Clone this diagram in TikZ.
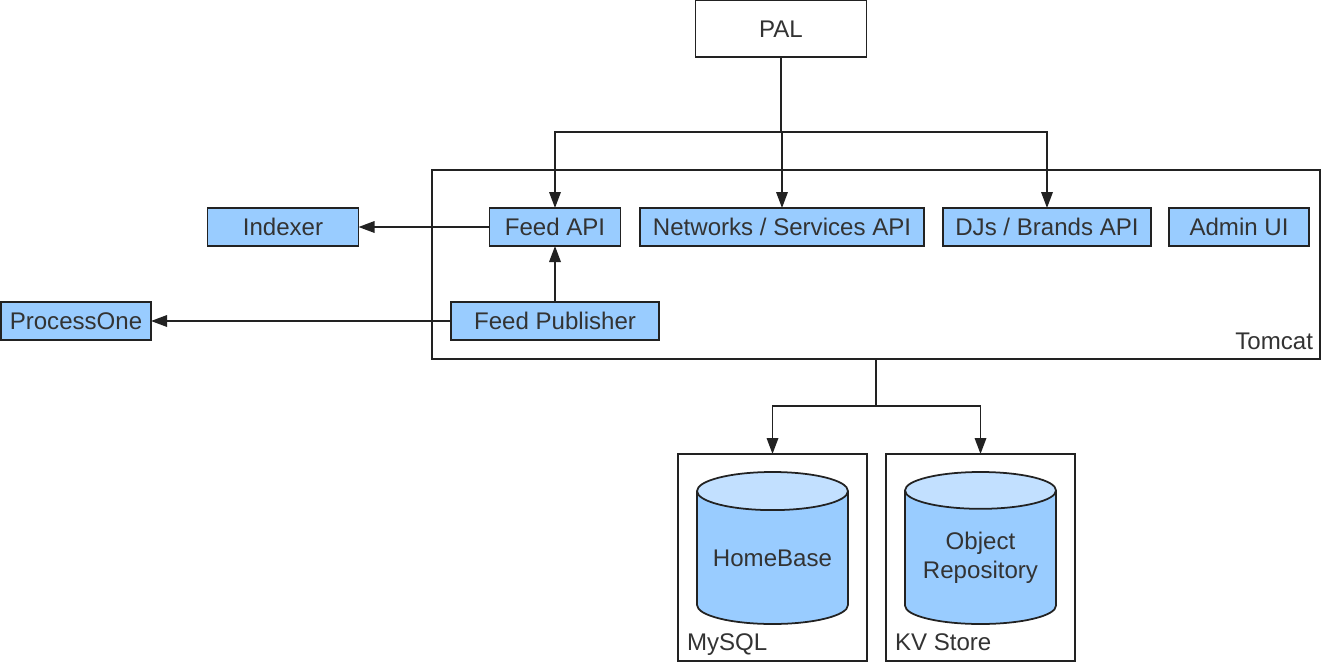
\documentclass[tikz,border=0pt]{standalone}
\usepackage{fontspec}
\setmainfont{Liberation Sans}
\usepackage{xcolor}
\usepackage{tikz}
\usetikzlibrary{shapes.geometric,arrows.meta,positioning,calc}
\definecolor{boxblue}{HTML}{99CCFF}
\definecolor{capblue}{HTML}{C2E0FF}
\definecolor{inkgrey}{HTML}{333333}
\definecolor{linegrey}{HTML}{222222}

\begin{document}
\begin{tikzpicture}[
    every node/.style={outer sep=0pt, inner sep=0pt, text=inkgrey, font=\fontsize{13.7pt}{16.4pt}\selectfont},
    plainbox/.style={rectangle, draw=linegrey, line width=1pt, fill=white},
    svcbox/.style={rectangle, draw=linegrey, line width=1pt, fill=boxblue, minimum height=0.76cm},
    dbcyl/.style={cylinder, shape border rotate=90, shape aspect=0.32, draw=linegrey, line width=1pt, cylinder uses custom fill, cylinder body fill=boxblue, cylinder end fill=capblue, minimum width=3.02cm, minimum height=3.04cm, align=center},
    arrow/.style={-{Triangle[length=0.32cm, width=0.23cm]}, line width=1pt, draw=linegrey},
    link/.style={line width=1pt, draw=linegrey}
]
    \useasboundingbox (0,0) rectangle (26.48,-13.28);

    \node [plainbox, minimum width=3.42cm, minimum height=1.13cm] (pal) at (15.62,-0.575) {PAL};
    \node [plainbox, minimum width=17.76cm, minimum height=3.78cm] (tomcat) at (17.52,-5.29) {};
    \node [anchor=base east] (tomcatlabel) at ($(tomcat.south east)+(-0.14,0.2)$) {Tomcat};

    \node [svcbox, minimum width=2.62cm] (feedapi) at (11.10,-4.54) {Feed API};
    \node [svcbox, minimum width=5.68cm, right=0.39cm of feedapi] (networks) {Networks / Services API};
    \node [svcbox, minimum width=4.16cm, right=0.38cm of networks] (djs) {DJs / Brands API};
    \node [svcbox, minimum width=2.8cm, right=0.36cm of djs] (adminui) {Admin UI};
    \node [svcbox, minimum width=3.02cm, left=2.62cm of feedapi] (indexer) {Indexer};
    \node [svcbox, minimum width=4.16cm, below=1.12cm of feedapi] (feedpub) {Feed Publisher};
    \node [svcbox, minimum width=3.0cm, left=6cm of feedpub] (processone) {ProcessOne};

    \node [plainbox, minimum width=3.78cm, minimum height=4.14cm] (mysql) at (15.45,-11.15) {};
    \node [plainbox, minimum width=3.78cm, minimum height=4.14cm, right=0.38cm of mysql] (kvstore) {};
    \node [dbcyl, below=0.36cm of mysql.north] (homebase) {HomeBase};
    \node [dbcyl, below=0.36cm of kvstore.north] (objrepo) {Object\\Repository};
    \node [anchor=base west] (mysqllabel) at ($(mysql.south west)+(0.18,0.22)$) {MySQL};
    \node [anchor=base west] (kvlabel) at ($(kvstore.south west)+(0.18,0.22)$) {KV Store};

    \coordinate (palsplit) at ($(pal.south)+(0,-1.5)$);
    \coordinate (tomcatsplit) at ($(tomcat.south)+(0,-0.94)$);

    \draw [link] (pal.south) -- (palsplit);
    \draw [arrow] (palsplit) -| (feedapi.north);
    \draw [arrow] (palsplit) -| (djs.north);
    \draw [arrow] (palsplit -| networks.north) -- (networks.north);
    \draw [arrow] (feedapi) -- (indexer);
    \draw [arrow] (feedpub) -- (feedapi);
    \draw [arrow] (feedpub) -- (processone);
    \draw [link] (tomcat.south) -- (tomcatsplit);
    \draw [arrow] (tomcatsplit) -| (mysql.north);
    \draw [arrow] (tomcatsplit) -| (kvstore.north);
\end{tikzpicture}
\end{document}
